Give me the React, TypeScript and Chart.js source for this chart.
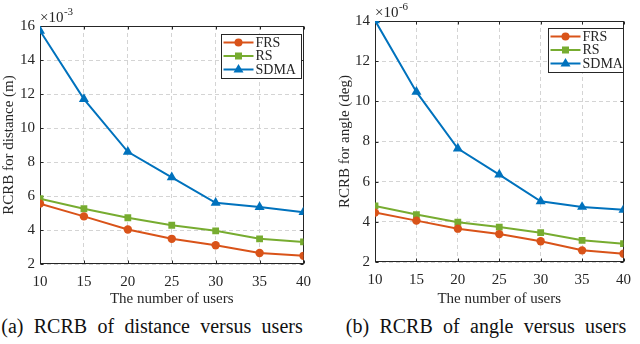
import React, { useEffect, useRef } from "react";
import { Chart, registerables } from "chart.js";

Chart.register(...registerables);

// ---- data ----
const users = [10, 15, 20, 25, 30, 35, 40];
const seriesNames = ["FRS", "RS", "SDMA"];

const distFRS = [5.55, 4.8, 4.03, 3.48, 3.1, 2.65, 2.48];
const distRS = [5.84, 5.25, 4.72, 4.28, 3.95, 3.48, 3.3];
const distSDMA = [15.72, 11.7, 8.6, 7.1, 5.6, 5.35, 5.05];

const angleFRS = [4.46, 4.06, 3.66, 3.39, 3.03, 2.58, 2.41];
const angleRS = [4.79, 4.36, 3.98, 3.74, 3.46, 3.08, 2.91];
const angleSDMA = [14.03, 10.47, 7.65, 6.35, 5.02, 4.74, 4.6];

const distTicks = [2, 4, 6, 8, 10, 12, 14, 16];
const angleTicks = [2, 4, 6, 8, 10, 12, 14];

const colors = ["#D95319", "#77AC30", "#0072BD"];
const markers = ["circle", "rect", "triangle"];
const markerRadius = [4.2, 4.8, 5.8];

const FONT = "'Liberation Serif', 'Times New Roman', serif";
const TXT = "#262626";

type PanelProps = {
  series: number[][];
  yTicks: number[];
  yTitle: string;
  yTitleShift: number;
  exponent: string;
  pad: { top: number; right: number };
  yWidth: number;
  xHeight: number;
  legendOffset: { right: number; top: number; w: number; h: number };
};

const framePlugin = {
  id: "matlabFrame",
  beforeDatasetsDraw(chart: any) {
    const { ctx, chartArea: a, scales } = chart;
    ctx.save();
    ctx.setLineDash([]);
    ctx.strokeStyle = TXT;
    ctx.lineWidth = 1;
    const L = Math.round(a.left) + 0.5;
    const R = Math.round(a.right) - 0.5;
    const T = Math.round(a.top) + 0.5;
    const B = Math.round(a.bottom) - 0.5;
    ctx.strokeRect(L, T, R - L, B - T);
    const tl = 3;
    ctx.beginPath();
    scales.x.ticks.forEach((t: any) => {
      const px = Math.round(scales.x.getPixelForValue(t.value)) + 0.5;
      ctx.moveTo(px, B);
      ctx.lineTo(px, B - tl);
      ctx.moveTo(px, T);
      ctx.lineTo(px, T + tl);
    });
    scales.y.ticks.forEach((t: any) => {
      const py = Math.round(scales.y.getPixelForValue(t.value)) + 0.5;
      ctx.moveTo(L, py);
      ctx.lineTo(L + tl, py);
      ctx.moveTo(R, py);
      ctx.lineTo(R - tl, py);
    });
    ctx.stroke();
    ctx.restore();
  },
  afterDraw(chart: any, _args: any, opts: any) {
    const { ctx, chartArea: a } = chart;
    ctx.save();
    // exponent label
    ctx.fillStyle = TXT;
    ctx.textBaseline = "alphabetic";
    ctx.textAlign = "left";
    ctx.font = `15px ${FONT}`;
    const base = "\u00d710";
    ctx.fillText(base, a.left, a.top - 4);
    const w = ctx.measureText(base).width;
    ctx.font = `11px ${FONT}`;
    ctx.fillText(opts.exponent, a.left + w + 0.5, a.top - 11);

    // legend
    const lo = opts.legend;
    const bx = Math.round(a.right - lo.right - lo.w) + 0.5;
    const by = Math.round(a.top + lo.top) + 0.5;
    ctx.fillStyle = "#ffffff";
    ctx.fillRect(bx, by, lo.w, lo.h);
    ctx.strokeStyle = TXT;
    ctx.lineWidth = 1;
    ctx.setLineDash([]);
    ctx.strokeRect(bx, by, lo.w, lo.h);
    const rows = [8, 21.5, 35];
    seriesNames.forEach((name, i) => {
      const y = by + rows[i];
      ctx.strokeStyle = colors[i];
      ctx.lineWidth = 2;
      ctx.beginPath();
      ctx.moveTo(bx + 2, y);
      ctx.lineTo(bx + 32, y);
      ctx.stroke();
      ctx.fillStyle = colors[i];
      ctx.beginPath();
      const cx = bx + 17;
      if (i === 0) {
        ctx.arc(cx, y, 4, 0, Math.PI * 2);
      } else if (i === 1) {
        ctx.rect(cx - 3.5, y - 3.5, 7, 7);
      } else {
        ctx.moveTo(cx, y - 5.5);
        ctx.lineTo(cx + 5, y + 3);
        ctx.lineTo(cx - 5, y + 3);
        ctx.closePath();
      }
      ctx.fill();
      ctx.fillStyle = TXT;
      ctx.font = `14px ${FONT}`;
      ctx.textBaseline = "middle";
      ctx.fillText(name, bx + 34, y + 0.5);
    });
    ctx.restore();
  },
};

function Panel(p: PanelProps) {
  const ref = useRef<HTMLCanvasElement | null>(null);
  useEffect(() => {
    if (!ref.current) return;
    const chart = new Chart(ref.current, {
      type: "line",
      data: {
        datasets: p.series.map((vals, i) => ({
          label: seriesNames[i],
          data: users.map((u, k) => ({ x: u, y: vals[k] })),
          borderColor: colors[i],
          backgroundColor: colors[i],
          borderWidth: 2,
          pointStyle: markers[i] as any,
          pointRadius: markerRadius[i],
          pointBorderWidth: 0,
          pointBackgroundColor: colors[i],
          tension: 0,
        })),
      },
      options: {
        responsive: false,
        animation: false,
        events: [],
        layout: { padding: { top: p.pad.top, right: p.pad.right, left: 0, bottom: 0 } },
        plugins: {
          legend: { display: false },
          tooltip: { enabled: false },
          matlabFrame: { exponent: p.exponent, legend: p.legendOffset },
        } as any,
        scales: {
          x: {
            type: "linear",
            min: 10,
            max: 40,
            afterBuildTicks: (s: any) => {
              s.ticks = users.map((v) => ({ value: v }));
            },
            afterFit: (s: any) => {
              s.height = p.xHeight;
            },
            ticks: { color: TXT, font: { family: FONT, size: 15 }, padding: 9, maxRotation: 0 },
            grid: { color: "#d4d4d4", drawTicks: false, lineWidth: 1 },
            border: { display: false, dash: [4, 3] },
            title: {
              display: true,
              text: "The number of users",
              color: TXT,
              font: { family: FONT, size: 15 },
              padding: { top: 0, bottom: 2 },
            },
          },
          y: {
            type: "linear",
            min: p.yTicks[0],
            max: p.yTicks[p.yTicks.length - 1],
            afterBuildTicks: (s: any) => {
              s.ticks = p.yTicks.map((v) => ({ value: v }));
            },
            afterFit: (s: any) => {
              s.width = p.yWidth;
            },
            ticks: { color: TXT, font: { family: FONT, size: 15 }, padding: 5 },
            grid: { color: "#d4d4d4", drawTicks: false, lineWidth: 1 },
            border: { display: false, dash: [4, 3] },
            title: {
              display: true,
              text: p.yTitle,
              color: TXT,
              font: { family: FONT, size: 15 },
              padding: { top: p.yTitleShift, bottom: 0 },
            },
          },
        },
      },
      plugins: [framePlugin],
    });
    let alive = true;
    const fonts: any = (document as any).fonts;
    if (fonts && fonts.load) {
      Promise.all([fonts.load(`15px 'Liberation Serif'`), fonts.load(`15px 'Times New Roman'`)])
        .catch(() => {})
        .then(() => {
          if (alive) chart.update();
        });
    }
    return () => {
      alive = false;
      chart.destroy();
    };
  }, []);
  return <canvas ref={ref} width={320} height={310} style={{ display: "block", width: 320, height: 310 }} />;
}

const captionStyle: React.CSSProperties = {
  position: "absolute",
  top: 316,
  width: 400,
  textAlign: "center",
  fontFamily: FONT,
  fontSize: 20,
  lineHeight: "20px",
  color: "#111",
  wordSpacing: 5.3,
  whiteSpace: "nowrap",
};

export default function App() {
  return (
    <div style={{ position: "absolute", left: 0, top: 0, width: 640, height: 344, background: "#fff", overflow: "hidden", fontFamily: FONT }}>
      <div style={{ position: "absolute", left: 0, top: 0 }}>
        <Panel
          series={[distFRS, distRS, distSDMA]}
          yTicks={distTicks}
          yTitle="RCRB for distance (m)"
          yTitleShift={0}
          exponent="-3"
          pad={{ top: 26, right: 15 }}
          yWidth={40}
          xHeight={46}
          legendOffset={{ right: 3, top: 8, w: 80, h: 44 }}
        />
      </div>
      <div style={{ position: "absolute", left: 320, top: 0 }}>
        <Panel
          series={[angleFRS, angleRS, angleSDMA]}
          yTicks={angleTicks}
          yTitle="RCRB for angle (deg)"
          yTitleShift={16}
          exponent="-6"
          pad={{ top: 21, right: 8 }}
          yWidth={55}
          xHeight={48}
          legendOffset={{ right: 1, top: 7, w: 75, h: 44 }}
        />
      </div>
      <div style={{ ...captionStyle, left: 152 - 200 }}>(a) RCRB of distance versus users</div>
      <div style={{ ...captionStyle, left: 486 - 200 }}>(b) RCRB of angle versus users</div>
    </div>
  );
}
